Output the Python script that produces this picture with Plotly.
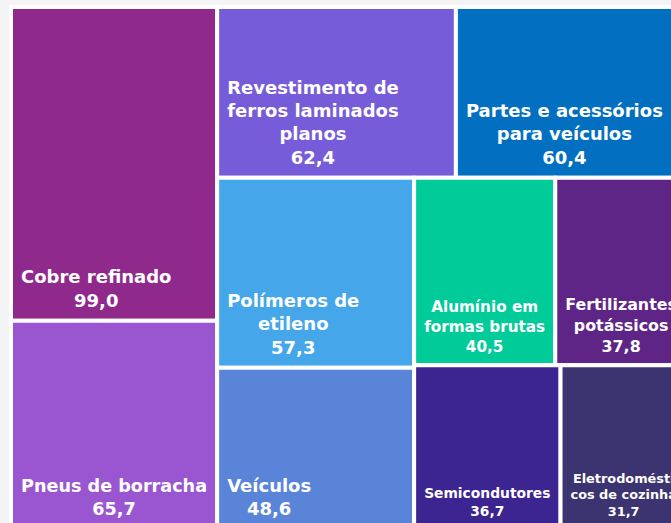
import plotly.graph_objects as go

labels = [
    "Cobre refinado",
    "Pneus de borracha",
    "Revestimento de<br>ferros laminados<br>planos",
    "Partes e acessórios<br>para veículos",
    "Polímeros de<br>etileno",
    "Veículos",
    "Alumínio em<br>formas brutas",
    "Fertilizantes<br>potássicos",
    "Semicondutores",
    "Eletrodomésti<br>cos de cozinha",
]
values = [99.0, 65.7, 62.4, 60.4, 57.3, 48.6, 40.5, 37.8, 36.7, 31.7]
colors = [
    "#8F2A8C", "#9A56D1", "#765CD8", "#036FC0", "#45A6EA",
    "#5A84D8", "#02CB9A", "#5E2586", "#3C2491", "#3B3470",
]

# Each category is a tile holding one same-coloured inner tile, so the label
# sits inside with some padding (the outer tile frame is invisible).
n = len(labels)
ids = [f"c{i}" for i in range(n)] + [f"c{i}-in" for i in range(n)]
tm_labels = labels + labels
tm_parents = [""] * n + [f"c{i}" for i in range(n)]
tm_values = values + values
tm_colors = colors + colors
line_w = [4] * n + [0] * n
texts = [""] * n + [f"{lab}<br>{val:.1f}".replace(".", ",") for lab, val in zip(labels, values)]
text_colors = ["rgba(0,0,0,0)"] * n + ["white"] * n

W, H = 694, 536
ML, MT = 4, 0

fig = go.Figure(go.Treemap(
    ids=ids,
    labels=tm_labels,
    parents=tm_parents,
    values=tm_values,
    branchvalues="total",
    sort=False,
    text=texts,
    textinfo="text",
    marker=dict(colors=tm_colors, line=dict(color="white", width=line_w),
                pad=dict(t=7, l=7, r=7, b=7)),
    textposition="bottom left",
    textfont=dict(family="DejaVu Sans", size=18, color=text_colors, weight="bold"),
    pathbar=dict(visible=False),
    tiling=dict(packing="squarify", pad=0),
    hoverinfo="skip",
))

fig.update_layout(
    width=W, height=H,
    margin=dict(l=ML, r=0, t=MT, b=0),
    paper_bgcolor="#F4F3F6",
    shapes=[dict(type="rect", xref="paper", yref="paper",
                 x0=6 / (W - ML), x1=1, y0=0, y1=1 - 5 / (H - MT),
                 fillcolor="white", line=dict(width=0), layer="below")],
)

post = """
document.documentElement.style.overflow='hidden';
document.body.style.overflow='hidden';
document.body.style.margin='0';
var gd = document.getElementById('{plot_id}');
gd.querySelectorAll('text.slicetext, .slicetext text').forEach(function(t){
  var bb = t.getBBox();
  if (!bb.width) return;
  var cx = bb.x + bb.width / 2;
  t.setAttribute('text-anchor', 'middle');
  t.setAttribute('x', cx);
  t.querySelectorAll('tspan.line').forEach(function(s){ s.setAttribute('x', cx); });
});
"""
fig.write_html("out.html", config={"displayModeBar": False}, post_script=post)
